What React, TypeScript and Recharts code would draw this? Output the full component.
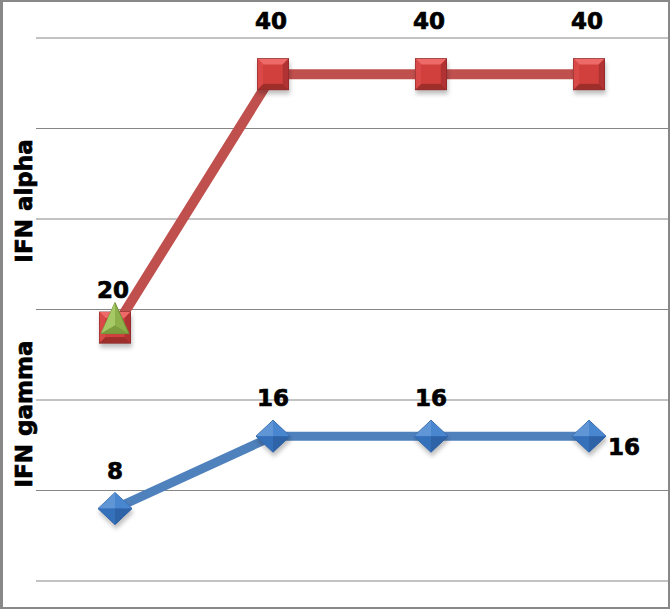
import React from 'react';
import { AreaChart, Area, XAxis, YAxis, CartesianGrid } from 'recharts';

const categories = ['1', '2', '3', '4'];
const ifnAlpha = [20, 40, 40, 40];
const ifnGamma = [8, 16, 16, 16];
const yTicks = [0, 10, 20, 30, 40, 50, 60];
const axisTitles = ['IFN alpha', 'IFN gamma'];

const data = categories.map((c, i) => ({ cat: c, gamma: ifnGamma[i], alpha: ifnAlpha[i] }));

const FONT = '"DejaVu Sans", Verdana, sans-serif';

const Square = (cx: number, cy: number, key: string) => {
  const h = 15.5;
  const ins = 6;
  return (
    <g key={key} filter="url(#mshadow)">
      <rect x={cx - h} y={cy - h} width={h * 2} height={h * 2} fill="#C93A38" stroke="#7F2523" strokeWidth={1} />
      <polygon points={`${cx - h},${cy - h} ${cx + h},${cy - h} ${cx + h - ins},${cy - h + ins} ${cx - h + ins},${cy - h + ins}`} fill="#EE6B68" />
      <polygon points={`${cx - h},${cy - h} ${cx - h + ins},${cy - h + ins} ${cx - h + ins},${cy + h - ins} ${cx - h},${cy + h}`} fill="#D84A47" />
      <polygon points={`${cx - h},${cy + h} ${cx + h},${cy + h} ${cx + h - ins},${cy + h - ins} ${cx - h + ins},${cy + h - ins}`} fill="#9E2E2C" />
      <polygon points={`${cx + h},${cy - h} ${cx + h},${cy + h} ${cx + h - ins},${cy + h - ins} ${cx + h - ins},${cy - h + ins}`} fill="#B03331" />
      <rect x={cx - h + ins} y={cy - h + ins} width={(h - ins) * 2} height={(h - ins) * 2} fill="#D2403D" />
    </g>
  );
};

const Triangle = (cx: number, cy: number, key: string) => {
  const top = cy - 25;
  const bot = cy + 6;
  const hw = 14;
  return (
    <g key={key}>
      <polygon points={`${cx},${top} ${cx + hw},${bot} ${cx - hw},${bot}`} fill="#8DB04A" stroke="#6F8C36" strokeWidth={1} />
      <polygon points={`${cx},${top} ${cx},${bot - 8} ${cx - hw},${bot}`} fill="#A6C865" />
      <polygon points={`${cx},${bot - 8} ${cx + hw},${bot} ${cx - hw},${bot}`} fill="#7C9C3E" />
    </g>
  );
};

const Diamond = (cx: number, cy: number, key: string) => {
  const w = 17;
  const hh = 16;
  return (
    <g key={key} filter="url(#mshadow)">
      <polygon points={`${cx},${cy - hh} ${cx + w},${cy} ${cx},${cy + hh} ${cx - w},${cy}`} fill="#3E78C4" stroke="#2E5C97" strokeWidth={1} />
      <polygon points={`${cx},${cy - hh} ${cx},${cy} ${cx - w},${cy}`} fill="#6196D6" />
      <polygon points={`${cx},${cy - hh} ${cx + w},${cy} ${cx},${cy}`} fill="#4A86D0" />
      <polygon points={`${cx - w},${cy} ${cx},${cy} ${cx},${cy + hh}`} fill="#3670BA" />
      <polygon points={`${cx + w},${cy} ${cx},${cy} ${cx},${cy + hh}`} fill="#2F63A8" />
    </g>
  );
};

const renderGammaDot = (p: any) => Diamond(p.cx, p.cy, `gd${p.index}`);
const renderAlphaDot = (p: any) => (
  <g key={`ad${p.index}`}>
    {Square(p.cx, p.cy, `sq${p.index}`)}
    {p.index === 0 ? Triangle(p.cx, p.cy, `tr${p.index}`) : null}
  </g>
);

const labelStyle = {
  fontFamily: FONT,
  fontWeight: 700,
  fontSize: 23,
  fill: '#000',
  stroke: '#000',
  strokeWidth: 0.7,
};

const renderGammaLabel = (p: any) => {
  const i = p.index;
  const last = i === ifnGamma.length - 1;
  const x = last ? p.x + 19 : p.x;
  const y = last ? p.y + 19 : p.y - 30;
  return (
    <text key={`gl${i}`} x={x} y={y} textAnchor={last ? 'start' : 'middle'} style={labelStyle as any}>
      {ifnGamma[i]}
    </text>
  );
};

const renderAlphaLabel = (p: any) => {
  const i = p.index;
  const y = i === 0 ? p.y - 30 : p.y - 45;
  return (
    <text key={`al${i}`} x={p.x - 2} y={y} textAnchor="middle" style={labelStyle as any}>
      {ifnAlpha[i]}
    </text>
  );
};

export default function App() {
  return (
    <div style={{ position: 'absolute', left: 0, top: 0, width: 670, height: 609, background: '#fff' }}>
      <AreaChart width={670} height={609} data={data} margin={{ top: 38, right: 2, bottom: 28, left: 36 }}>
        <defs>
          <filter id="mshadow" x="-50%" y="-50%" width="200%" height="200%">
            <feDropShadow dx="1" dy="4" stdDeviation="2" floodColor="#000" floodOpacity="0.25" />
          </filter>
        </defs>
        <CartesianGrid vertical={false} stroke="#868686" strokeWidth={1} />
        <XAxis dataKey="cat" hide padding={{ left: 79, right: 79 }} />
        <YAxis hide domain={[0, 60]} ticks={yTicks} />
        <Area
          dataKey="gamma"
          stackId="s"
          type="linear"
          stroke="#4F81BD"
          strokeWidth={9}
          fill="none"
          dot={renderGammaDot}
          activeDot={false}
          label={renderGammaLabel}
          isAnimationActive={false}
        />
        <Area
          dataKey="alpha"
          stackId="s"
          type="linear"
          stroke="#C0504D"
          strokeWidth={10}
          fill="none"
          dot={renderAlphaDot}
          activeDot={false}
          label={renderAlphaLabel}
          isAnimationActive={false}
        />
        <text x={32} y={201} transform="rotate(-90 32 201)" textAnchor="middle" style={labelStyle as any}>
          {axisTitles[0]}
        </text>
        <text x={32} y={414} transform="rotate(-90 32 414)" textAnchor="middle" style={labelStyle as any}>
          {axisTitles[1]}
        </text>
      </AreaChart>
      <div
        style={{
          position: 'absolute',
          left: 0,
          top: 0,
          width: 670,
          height: 609,
          boxSizing: 'border-box',
          borderTop: '2px solid #888',
          borderLeft: '3px solid #888',
          borderRight: '2px solid #888',
          borderBottom: '2px solid #888',
          pointerEvents: 'none',
        }}
      />
    </div>
  );
}
